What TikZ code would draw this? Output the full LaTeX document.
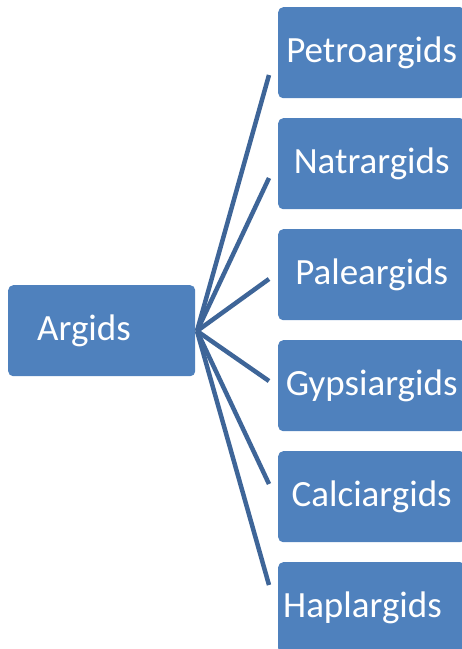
\documentclass[tikz,border=0pt]{standalone}
\usepackage{fontspec}
\setmainfont{Carlito}
\definecolor{boxblue}{HTML}{4F81BD}
\definecolor{lineblue}{HTML}{3E6598}
\begin{document}
\begin{tikzpicture}[x=1pt,y=-1pt,
  box/.style={fill=boxblue, rounded corners=5pt, text=white, font=\fontsize{37}{40}\selectfont,
    minimum width=187pt, minimum height=91pt, inner sep=0pt, anchor=north west},
  conn/.style={draw=lineblue, line width=4.5pt}]
\useasboundingbox (0,0) rectangle (462,649);
\node[box, text width=129pt, inner xsep=29pt, align=left] (argids) at (8,285) {Argids};
\node[box] (p1) at (278,7) {Petroargids};
\node[box] (p2) at (278,118) {Natrargids};
\node[box] (p3) at (278,229) {Paleargids};
\node[box] (p4) at (278,340) {Gypsiargids};
\node[box] (p5) at (278,451) {Calciargids};
\node[box, text width=177pt, inner xsep=5pt, align=left] (p6) at (278,562) {Haplargids};
\coordinate (hub) at (197,331);
\coordinate (e1) at (269,75);
\coordinate (e2) at (269,178);
\coordinate (e3) at (269,279);
\coordinate (e4) at (269,381);
\coordinate (e5) at (269,484);
\coordinate (e6) at (269,585);
\foreach \i in {1,...,6} \draw[conn] (hub) -- (e\i);
\end{tikzpicture}
\end{document}
